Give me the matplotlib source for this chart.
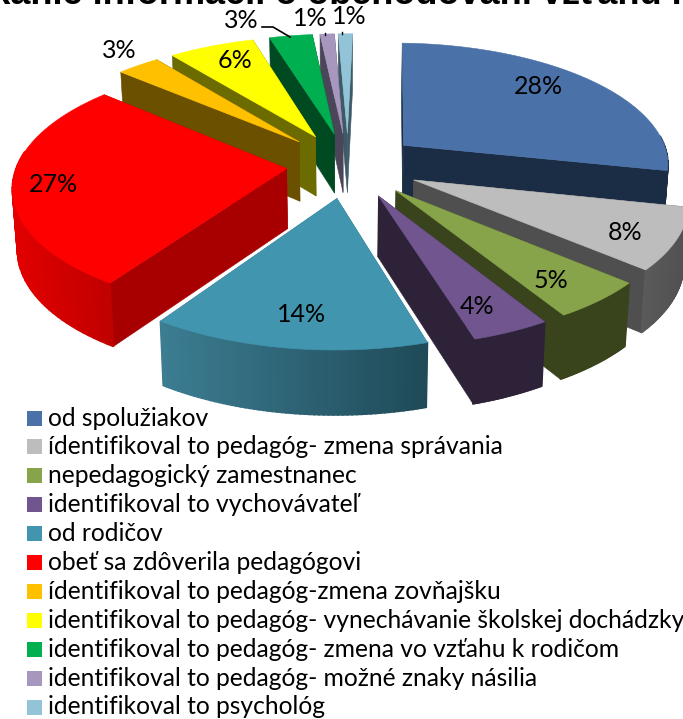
import numpy as np
import matplotlib
matplotlib.use("Agg")
import matplotlib.pyplot as plt
from matplotlib.patches import Polygon, Rectangle
from matplotlib.colors import to_rgb

# ---- data ----
categories = ["od spolužiakov", "ídentifikoval to pedagóg- zmena správania", "nepedagogický zamestnanec",
              "identifikoval to vychovávateľ", "od rodičov", "obeť sa zdôverila pedagógovi",
              "ídentifikoval to pedagóg-zmena zovňajšku",
              "identifikoval to pedagóg- vynechávanie školskej dochádzky",
              "identifikoval to pedagóg- zmena vo vzťahu k rodičom",
              "identifikoval to pedagóg- možné znaky násilia", "identifikoval to psychológ"]
values = [28, 8, 5, 4, 14, 27, 3, 6, 3, 1, 1]
title = "Získanie informácií o obchodovaní vzťahu nás"

# ---- style / layout ----
top_colors = ["#4A72A8", "#BDBDBD", "#88A44B", "#70558E", "#4195AE", "#FF0000",
              "#FFC000", "#FFFF00", "#00B050", "#A797BF", "#92C3D6"]
cut_colors = ["#1A2D45", "#4F4F4F", "#39441D", "#2D2238", "#3D7589", "#A80000",
              "#6B5000", "#6B6B00", "#004A22", "#4A4558", "#3D5A66"]
arc_left = ["#1A2D45", "#5A5A5A", "#39441D", "#2D2238", "#3C7D92", "#E20000",
            "#6B5000", "#6B6B00", "#004A22", "#4A4558", "#3D5A66"]
arc_right = ["#1A2D45", "#505050", "#39441D", "#2D2238", "#1F4A58", "#C00000",
             "#6B5000", "#6B6B00", "#004A22", "#4A4558", "#3D5A66"]
explode = [0.27, 0.27, 0.27, 0.27, 0.27, 0.23, 0.27, 0.27, 0.27, 0.27, 0.27]
label_xy = [(538, 86), (625, 232), (551, 281), (477, 306), (302, 314), (53, 184),
            (119, 50), (235, 61), (241, 20), (310, 18), (349, 17)]
FONT = "Lato"
W, H = 683, 719
cx, cy = 347, 165
R, Ry, k = 268, 121, 0.135
shear, tilt, xshift = 0.05, 0.012, 1
depth = 60
shrink = 0.985


def proj(u, v):
    w = 1 + k * v
    x = cx + R * u / w
    y = cy - Ry * v / w
    return x + shear * (cy - y) + xshift, y + tilt * (x - cx)


def drop(x, y, v):
    return cx + (x - cx) * shrink, y + depth / (1 + 0.06 * v)


fig = plt.figure(figsize=(W / 100, H / 100), dpi=100)
ax = fig.add_axes([0, 0, 1, 1])
ax.set_xlim(0, W)
ax.set_ylim(H, 0)
ax.axis("off")

total = sum(values)
edges = np.cumsum([0] + values) / total * 2 * np.pi
wedges = []
for i in range(len(values)):
    mid = (edges[i] + edges[i + 1]) / 2
    wedges.append((np.cos(mid), i, mid))


def poly(pts, c, z, lw=0.4):
    ax.add_patch(Polygon(pts, closed=True, facecolor=c, edgecolor=c, lw=lw, zorder=z))


for n, (_, i, mid) in enumerate(sorted(wedges, key=lambda t: -t[0])):
    z = 2 + n
    ou, ov = explode[i] * np.sin(mid), explode[i] * np.cos(mid)
    th = np.linspace(edges[i], edges[i + 1], 60)
    us = ou + np.sin(th)
    vs = ov + np.cos(th)
    tx, ty = proj(us, vs)
    bx, by = drop(tx, ty, vs)
    ax0, ay0 = proj(ou, ov)
    bx0, by0 = drop(ax0, ay0, ov)
    # cut faces
    poly([(ax0, ay0), (tx[0], ty[0]), (bx[0], by[0]), (bx0, by0)], cut_colors[i], z)
    poly([(ax0, ay0), (tx[-1], ty[-1]), (bx[-1], by[-1]), (bx0, by0)], cut_colors[i], z)
    # outer rim (only the part facing the viewer), shaded left to right
    cl, cr = np.array(to_rgb(arc_left[i])), np.array(to_rgb(arc_right[i]))
    lo, hi = tx.min(), tx.max()
    for j in range(len(th) - 1):
        if np.cos((th[j] + th[j + 1]) / 2) > 0.12:
            continue
        f = ((tx[j] + tx[j + 1]) / 2 - lo) / max(hi - lo, 1)
        poly([(tx[j], ty[j]), (tx[j + 1], ty[j + 1]), (bx[j + 1], by[j + 1]), (bx[j], by[j])],
             tuple(cl + (cr - cl) * f), z, lw=1.2)
    # top
    poly([(ax0, ay0)] + list(zip(tx, ty)), top_colors[i], z)

# value labels
for v, (x, y) in zip(values, label_xy):
    ax.text(x, y, f"{v}%", fontsize=18, family=FONT, ha="center", va="center", color="black", zorder=40)

# leader lines
ax.plot([262, 273, 290], [27, 27, 37], color="black", lw=1.2, zorder=41)
ax.plot([325, 325], [33, 35], color="black", lw=1.0, zorder=41)
ax.plot([342, 342], [32, 34], color="black", lw=1.0, zorder=41)

# legend
for i, name in enumerate(categories):
    y = 418 + i * 28.9
    ax.add_patch(Rectangle((27, y - 7.5), 15, 15, facecolor=top_colors[i], edgecolor="none", zorder=40))
    ax.text(48, y, name, fontsize=17.7, family=FONT, ha="left", va="center", color="black", zorder=40)

# cropped title
ax.text(-62, 4, title, fontsize=26, family="Liberation Sans", weight="bold", ha="left",
        va="baseline", color="black", zorder=40)

fig.savefig("out.png", dpi=100)
